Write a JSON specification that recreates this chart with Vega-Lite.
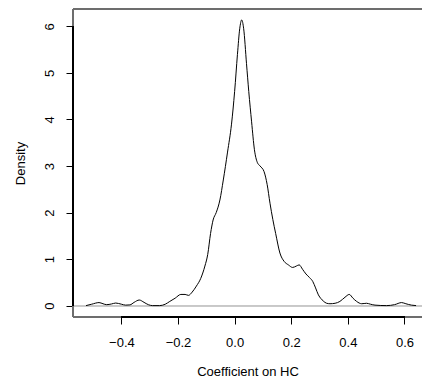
{
  "$schema": "https://vega.github.io/schema/vega-lite/v6.json",
  "autosize": {"type": "none"},
  "width": 349,
  "height": 308,
  "padding": {"left": 73, "top": 9, "right": 0, "bottom": 68},
  "background": "white",
  "config": {
    "view": {"stroke": null},
    "font": "Liberation Sans",
    "axis": {
      "domain": false,
      "grid": false,
      "tickColor": "black",
      "tickSize": 7,
      "tickWidth": 1,
      "labelFont": "Liberation Sans",
      "labelFontSize": 13,
      "labelColor": "black",
      "titleFont": "Liberation Sans",
      "titleFontSize": 13,
      "titleFontWeight": "normal",
      "titleColor": "black"
    }
  },
  "data": {
    "values": [
      {"x": -0.525, "y": 0.0},
      {"x": -0.505, "y": 0.03},
      {"x": -0.479, "y": 0.065},
      {"x": -0.465, "y": 0.04},
      {"x": -0.452, "y": 0.02},
      {"x": -0.435, "y": 0.035},
      {"x": -0.42, "y": 0.055},
      {"x": -0.4, "y": 0.03},
      {"x": -0.385, "y": 0.01},
      {"x": -0.37, "y": 0.015},
      {"x": -0.355, "y": 0.07},
      {"x": -0.337, "y": 0.12},
      {"x": -0.32, "y": 0.07},
      {"x": -0.305, "y": 0.02},
      {"x": -0.29, "y": 0.0},
      {"x": -0.265, "y": 0.0},
      {"x": -0.245, "y": 0.03},
      {"x": -0.229, "y": 0.09},
      {"x": -0.21, "y": 0.16},
      {"x": -0.19, "y": 0.24},
      {"x": -0.175, "y": 0.24},
      {"x": -0.163, "y": 0.22},
      {"x": -0.15, "y": 0.29},
      {"x": -0.135, "y": 0.42},
      {"x": -0.12, "y": 0.58},
      {"x": -0.105, "y": 0.85},
      {"x": -0.095, "y": 1.1},
      {"x": -0.085, "y": 1.55},
      {"x": -0.076, "y": 1.84},
      {"x": -0.065, "y": 2.0},
      {"x": -0.052, "y": 2.27},
      {"x": -0.04, "y": 2.7},
      {"x": -0.025, "y": 3.3},
      {"x": -0.011, "y": 3.9},
      {"x": 0.0, "y": 4.6},
      {"x": 0.01, "y": 5.4},
      {"x": 0.018, "y": 5.95},
      {"x": 0.025, "y": 6.14},
      {"x": 0.032, "y": 5.95},
      {"x": 0.042, "y": 5.2},
      {"x": 0.05, "y": 4.6},
      {"x": 0.06, "y": 3.95},
      {"x": 0.07, "y": 3.35},
      {"x": 0.08, "y": 3.08},
      {"x": 0.09, "y": 3.0},
      {"x": 0.104, "y": 2.88},
      {"x": 0.115, "y": 2.6},
      {"x": 0.125, "y": 2.2},
      {"x": 0.135, "y": 1.85},
      {"x": 0.145, "y": 1.55},
      {"x": 0.16, "y": 1.13},
      {"x": 0.175, "y": 0.95},
      {"x": 0.19, "y": 0.875},
      {"x": 0.205, "y": 0.82},
      {"x": 0.218, "y": 0.85},
      {"x": 0.228, "y": 0.875},
      {"x": 0.24, "y": 0.78},
      {"x": 0.252, "y": 0.68},
      {"x": 0.265, "y": 0.6},
      {"x": 0.276, "y": 0.52},
      {"x": 0.286, "y": 0.38},
      {"x": 0.296, "y": 0.23},
      {"x": 0.305, "y": 0.15},
      {"x": 0.313, "y": 0.1},
      {"x": 0.325, "y": 0.05},
      {"x": 0.337, "y": 0.04},
      {"x": 0.355, "y": 0.05},
      {"x": 0.372, "y": 0.09},
      {"x": 0.39, "y": 0.18},
      {"x": 0.405, "y": 0.24},
      {"x": 0.418, "y": 0.16},
      {"x": 0.431, "y": 0.09},
      {"x": 0.449, "y": 0.04},
      {"x": 0.466, "y": 0.05},
      {"x": 0.48, "y": 0.03},
      {"x": 0.496, "y": 0.01},
      {"x": 0.537, "y": 0.0},
      {"x": 0.565, "y": 0.02},
      {"x": 0.59, "y": 0.065},
      {"x": 0.605, "y": 0.04},
      {"x": 0.625, "y": 0.01},
      {"x": 0.641, "y": 0.0}
    ]
  },
  "layer": [
    {
      "mark": {"type": "rule", "color": "#c8c8c8", "strokeWidth": 1},
      "encoding": {"y": {"datum": 0, "type": "quantitative"}}
    },
    {
      "mark": {"type": "line", "color": "black", "strokeWidth": 1, "interpolate": "monotone"},
      "encoding": {
        "x": {
          "field": "x", "type": "quantitative",
          "scale": {"domain": [-0.571, 0.662], "nice": false, "zero": false},
          "axis": {"values": [-0.4, -0.2, 0, 0.2, 0.4, 0.6], "format": ".1f", "title": "Coefficient on HC", "labelPadding": 12, "titlePadding": 16}
        },
        "y": {
          "field": "y", "type": "quantitative",
          "scale": {"domain": [-0.245, 6.375], "nice": false, "zero": false},
          "axis": {"values": [0, 1, 2, 3, 4, 5, 6], "format": "d", "labelAngle": -90, "labelPadding": 10, "title": "Density", "titlePadding": 16}
        }
      }
    },
    {
      "mark": {"type": "rule", "color": "#6e6e6e", "strokeWidth": 1.5},
      "encoding": {"y": {"datum": 6.375, "type": "quantitative"}}
    },
    {
      "mark": {"type": "rule", "color": "#6e6e6e", "strokeWidth": 1.5},
      "encoding": {"y": {"datum": -0.245, "type": "quantitative"}}
    },
    {
      "mark": {"type": "rule", "color": "#6e6e6e", "strokeWidth": 1.5},
      "encoding": {"x": {"datum": -0.571, "type": "quantitative"}}
    },
    {
      "mark": {"type": "rule", "color": "black", "strokeWidth": 1.5},
      "encoding": {
        "x": {"datum": -0.4, "type": "quantitative"},
        "x2": {"datum": 0.6},
        "y": {"datum": -0.245, "type": "quantitative"}
      }
    },
    {
      "mark": {"type": "rule", "color": "black", "strokeWidth": 1.5},
      "encoding": {
        "y": {"datum": 0, "type": "quantitative"},
        "y2": {"datum": 6},
        "x": {"datum": -0.571, "type": "quantitative"}
      }
    }
  ]
}
